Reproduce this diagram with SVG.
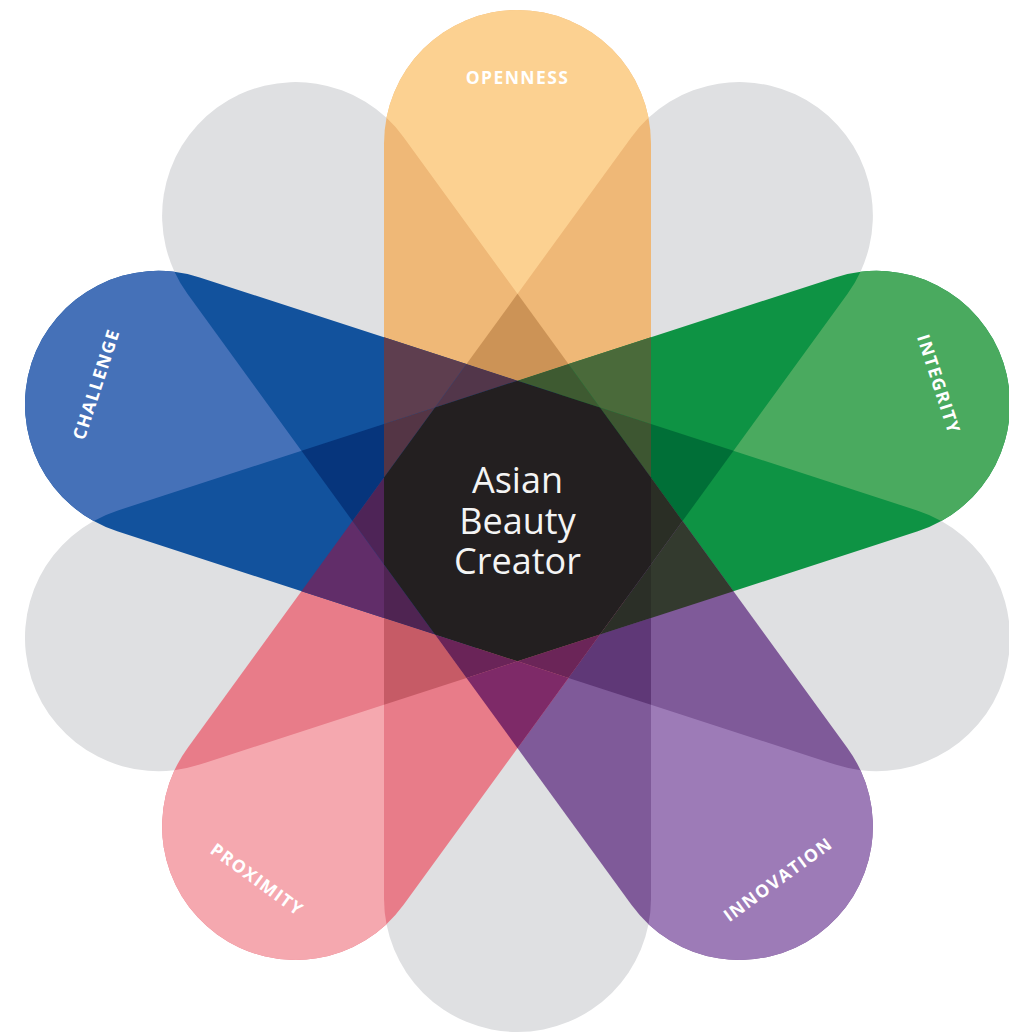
<svg xmlns="http://www.w3.org/2000/svg" width="1009" height="1034" viewBox="0 0 1009 1034">
<style>
.grey{fill:#DFE0E2}
.lbl{font-family:"Open Sans","Liberation Sans",sans-serif;font-weight:700;font-size:17.5px;letter-spacing:1.4px;fill:#FFFFFF;text-anchor:middle}
.ctr{font-family:"Open Sans","Liberation Sans",sans-serif;font-weight:400;font-size:36px;fill:#F4F4F4;text-anchor:middle}
</style>
<defs>
<path id="hp" d="M-133.5 0V-377.5A133.5 133.5 0 0 1 133.5 -377.5V0Z"/>
<mask id="ng" maskUnits="userSpaceOnUse" x="-600" y="-600" width="1200" height="1200">
<rect x="-600" y="-600" width="1200" height="1200" fill="#fff"/>
<use href="#hp" fill="#000" transform="rotate(36)"/>
<use href="#hp" fill="#000" transform="rotate(108)"/>
<use href="#hp" fill="#000" transform="rotate(180)"/>
<use href="#hp" fill="#000" transform="rotate(252)"/>
<use href="#hp" fill="#000" transform="rotate(324)"/>
</mask>
</defs>
<rect width="1009" height="1034" fill="#FFFFFF"/>
<g transform="translate(517.5 521)">
<g id="petal-grey-36"><use href="#hp" class="grey" transform="rotate(36)"/></g>
<g id="petal-grey-108"><use href="#hp" class="grey" transform="rotate(108)"/></g>
<g id="petal-grey-180"><use href="#hp" class="grey" transform="rotate(180)"/></g>
<g id="petal-grey-252"><use href="#hp" class="grey" transform="rotate(252)"/></g>
<g id="petal-grey-324"><use href="#hp" class="grey" transform="rotate(324)"/></g>

<g id="petal-openness">
<use href="#hp" fill="#EFB877"/>
<g mask="url(#ng)"><use href="#hp" fill="#FCD191"/></g>
<text class="lbl" transform="translate(0 -443)" y="6.3">OPENNESS</text>
</g>
<g id="petal-integrity">
<use href="#hp" fill="#0E9344" transform="rotate(72)"/>
<g mask="url(#ng)"><use href="#hp" fill="#4AAA5F" transform="rotate(72)"/></g>
<text class="lbl" transform="translate(421.31 -136.89) rotate(72)" y="6.3">INTEGRITY</text>
</g>
<g id="petal-innovation">
<use href="#hp" fill="#7F5A99" transform="rotate(144)"/>
<g mask="url(#ng)"><use href="#hp" fill="#9D7BB7" transform="rotate(144)"/></g>
<text class="lbl" transform="translate(260.39 358.39) rotate(-36)" y="6.3">INNOVATION</text>
</g>
<g id="petal-proximity">
<use href="#hp" fill="#E87C89" transform="rotate(216)"/>
<g mask="url(#ng)"><use href="#hp" fill="#F5A8AF" transform="rotate(216)"/></g>
<text class="lbl" transform="translate(-260.39 358.39) rotate(36)" y="6.3">PROXIMITY</text>
</g>
<g id="petal-challenge">
<use href="#hp" fill="#12529D" transform="rotate(288)"/>
<g mask="url(#ng)"><use href="#hp" fill="#4571B8" transform="rotate(288)"/></g>
<text class="lbl" transform="translate(-421.31 -136.89) rotate(-72)" y="6.3">CHALLENGE</text>
</g>

<g id="overlaps">
<polygon fill="#CC9356" points="0,-227.13 50.99,-156.94 0,-140.37 -50.99,-156.94"/>
<polygon fill="#4A6A3A" points="133.5,-183.75 133.5,-97 82.51,-113.56 50.99,-156.94"/>
<polygon fill="#006F37" points="216.01,-70.19 165.02,0 133.5,-43.38 133.5,-97"/>
<polygon fill="#333A2E" points="216.01,70.19 133.5,97 133.5,43.38 165.02,0"/>
<polygon fill="#5F3877" points="133.5,183.75 50.99,156.94 82.51,113.56 133.5,97"/>
<polygon fill="#7E2A68" points="0,227.13 -50.99,156.94 0,140.37 50.99,156.94"/>
<polygon fill="#C65B66" points="-133.5,183.75 -133.5,97 -82.51,113.56 -50.99,156.94"/>
<polygon fill="#612D69" points="-216.01,70.19 -165.02,0 -133.5,43.38 -133.5,97"/>
<polygon fill="#06357C" points="-216.01,-70.19 -133.5,-97 -133.5,-43.38 -165.02,0"/>
<polygon fill="#5E3E4F" points="-133.5,-183.75 -50.99,-156.94 -82.51,-113.56 -133.5,-97"/>
<polygon fill="#3E5A31" points="0,-140.37 50.99,-156.94 82.51,-113.56"/>
<polygon fill="#3D5631" points="82.51,-113.56 133.5,-97 133.5,-43.38"/>
<polygon fill="#2A2E25" points="133.5,-43.38 165.02,0 133.5,43.38"/>
<polygon fill="#2B2F27" points="133.5,43.38 133.5,97 82.51,113.56"/>
<polygon fill="#6B2558" points="82.51,113.56 50.99,156.94 0,140.37"/>
<polygon fill="#6A2458" points="0,140.37 -50.99,156.94 -82.51,113.56"/>
<polygon fill="#4F2452" points="-82.51,113.56 -133.5,97 -133.5,43.38"/>
<polygon fill="#4E2457" points="-133.5,43.38 -165.02,0 -133.5,-43.38"/>
<polygon fill="#543545" points="-133.5,-43.38 -133.5,-97 -82.51,-113.56"/>
<polygon fill="#52364A" points="-82.51,-113.56 -50.99,-156.94 0,-140.37"/>
</g>

<g id="center">
<polygon fill="#231F20" points="0,-140.37 82.51,-113.56 133.5,-43.38 133.5,43.38 82.51,113.56 0,140.37 -82.51,113.56 -133.5,43.38 -133.5,-43.38 -82.51,-113.56"/>
<text class="ctr" y="-27.7">Asian</text>
<text class="ctr" y="13">Beauty</text>
<text class="ctr" y="53.3">Creator</text>
</g>
</g>
</svg>
